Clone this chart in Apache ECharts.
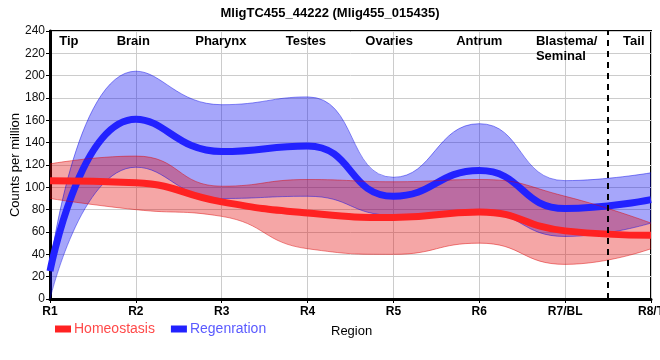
<!DOCTYPE html>
<html>
<head>
<meta charset="utf-8">
<script src="https://cdn.jsdelivr.net/npm/echarts@6/dist/echarts.min.js"></script>
<style>html,body{margin:0;padding:0;background:#fff}#c{width:660px;height:360px}</style>
</head>
<body>
<div id="c"></div>
<script>
// ---- data ----
var regions = ['R1', 'R2', 'R3', 'R4', 'R5', 'R6', 'R7/BL', 'R8/T'];
var homeo      = [106, 104, 87, 77, 73, 78, 61, 57];
var homeoUpper = [121, 128, 101, 107, 105, 107, 92, 68];
var homeoLower = [90, 80, 74, 45, 40, 50, 31, 45];
var regen      = [25, 161, 132, 137, 92, 115, 81, 89];
var regenUpper = [29, 204, 174, 181, 109, 157, 106, 113];
var regenLower = [0, 118, 90, 92, 75, 78, 56, 68];
var tissueNames = ['Tip', 'Brain', 'Pharynx', 'Testes', 'Ovaries', 'Antrum', 'Blastema/\nSeminal', 'Tail'];
var yTicks = [0, 20, 40, 60, 80, 100, 120, 140, 160, 180, 200, 220, 240];

// ---- layout (not data) ----
var tissueLabelX = [1.22, 1.97, 2.99, 3.98, 4.95, 6.0, 6.66, 7.80]; // region units, 1 = R1
var dividerX = 7.5;
var FONT = '"Liberation Sans", Arial, sans-serif';

function diff(u, l) { return u.map(function (v, i) { return v - l[i]; }); }

var SM = 0.5;
var blueFill = 'rgba(0,0,240,0.35)';
var blueEdge = 'rgba(0,0,230,0.45)';
var redFill = 'rgba(225,0,0,0.35)';
var redEdge = 'rgba(220,0,0,0.45)';
var yMax = yTicks[yTicks.length - 1];

var chart = echarts.init(document.getElementById('c'), null, {renderer: 'canvas'});
var option = {
  animation: false,
  textStyle: {fontFamily: FONT},
  title: {
    text: 'MligTC455_44222 (Mlig455_015435)',
    left: 'center', top: 2,
    textStyle: {fontFamily: FONT, fontSize: 13, fontWeight: 'bold', color: '#000'}
  },
  legend: {
    left: 55, top: 322, padding: 0,
    icon: 'rect', itemWidth: 16, itemHeight: 7, itemGap: 16,
    textStyle: {fontFamily: FONT, fontSize: 14, padding: [0, 0, 0, -2]},
    data: [
      {name: 'Homeostasis', textStyle: {color: '#ff4a4a'}},
      {name: 'Regenration', textStyle: {color: '#5a5aff'}}
    ]
  },
  graphic: [{
    type: 'text', left: 331, top: 325,
    style: {text: 'Region', font: '13px ' + FONT, fill: '#000'}
  }],
  grid: {left: 50, right: 9, top: 31, bottom: 61, show: true, borderColor: '#000', borderWidth: 2,
         outerBoundsMode: 'none', containLabel: false},
  xAxis: [{
    type: 'category', data: regions, boundaryGap: false,
    axisLine: {lineStyle: {color: '#000', width: 3}},
    axisTick: {show: true, length: 4, alignWithLabel: true, lineStyle: {color: '#000'}},
    splitLine: {show: true, lineStyle: {color: '#cccccc', width: 1}},
    axisLabel: {fontFamily: FONT, fontSize: 12, fontWeight: 'bold', color: '#000', margin: 7, interval: 0}
  }, {
    type: 'value', min: 1, max: regions.length, show: false
  }],
  yAxis: {
    type: 'value', min: yTicks[0], max: yMax, interval: yTicks[1] - yTicks[0],
    name: 'Counts per million', nameLocation: 'middle', nameGap: 28, nameMoveOverlap: false,
    nameTextStyle: {fontFamily: FONT, fontSize: 13, color: '#000'},
    axisLine: {show: true, lineStyle: {color: '#000', width: 3}},
    axisTick: {show: true, length: 4, lineStyle: {color: '#000'}},
    splitLine: {show: true, lineStyle: {color: '#cccccc', width: 1}},
    axisLabel: {fontFamily: FONT, fontSize: 12, color: '#111', margin: 5}
  },
  series: [
    {name: 'regenLower', type: 'line', stack: 'rb', data: regenLower, smooth: SM,
     showSymbol: false, lineStyle: {color: blueEdge, width: 1}, silent: true},
    {name: 'regenBand', type: 'line', stack: 'rb', data: diff(regenUpper, regenLower), smooth: SM,
     showSymbol: false, lineStyle: {color: blueEdge, width: 1}, areaStyle: {color: blueFill, opacity: 1}, silent: true},
    {name: 'Regenration', type: 'line', data: regen, smooth: SM, showSymbol: false,
     itemStyle: {color: '#2222ff'}, lineStyle: {color: '#2222ff', width: 7}},
    {name: 'homeoLower', type: 'line', stack: 'hb', data: homeoLower, smooth: SM,
     showSymbol: false, lineStyle: {color: redEdge, width: 1}, silent: true},
    {name: 'homeoBand', type: 'line', stack: 'hb', data: diff(homeoUpper, homeoLower), smooth: SM,
     showSymbol: false, lineStyle: {color: redEdge, width: 1}, areaStyle: {color: redFill, opacity: 1}, silent: true},
    {name: 'Homeostasis', type: 'line', data: homeo, smooth: SM, showSymbol: false,
     itemStyle: {color: '#ff2222'}, lineStyle: {color: '#ff2222', width: 7}},
    {name: 'annot', type: 'line', xAxisIndex: 1, data: [], silent: true,
     markLine: {
       silent: true, symbol: 'none', label: {show: false},
       lineStyle: {color: '#000', type: [6, 5], width: 2},
       data: [{xAxis: dividerX}]
     },
     markPoint: {
       silent: true, symbol: 'rect', symbolSize: [1, 1], itemStyle: {color: 'rgba(0,0,0,0)'},
       label: {show: true, position: 'inside', fontFamily: FONT, fontSize: 13, fontWeight: 'bold',
               color: '#000', lineHeight: 15, verticalAlign: 'top', offset: [0, 3]},
       data: tissueNames.map(function (n, i) {
         var d = {coord: [tissueLabelX[i], yMax], value: n, label: {formatter: n}};
         if (n.indexOf('\n') >= 0) { d.label.align = 'left'; }
         return d;
       })
     }}
  ]
};
chart.setOption(option);
</script>
</body>
</html>
